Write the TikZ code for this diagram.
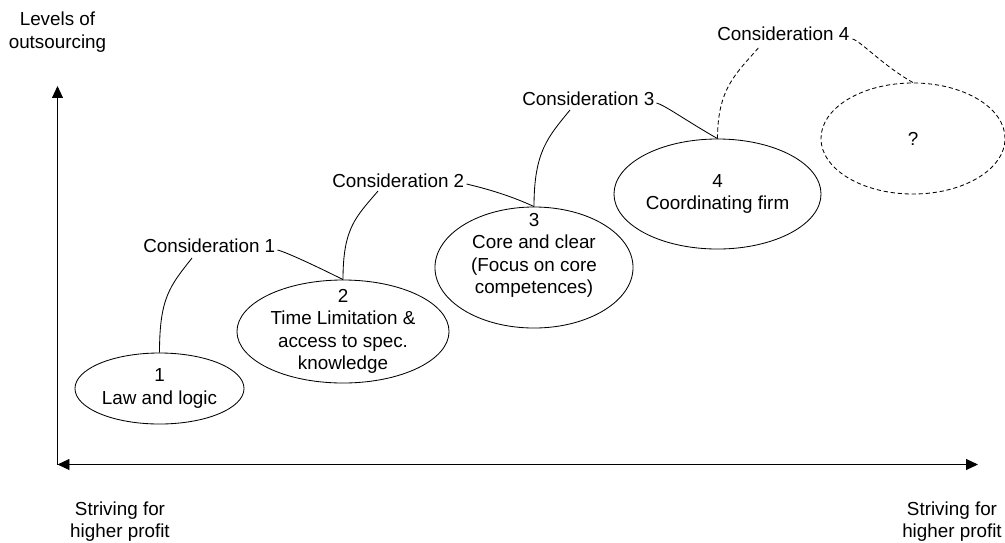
\documentclass[tikz,border=0pt]{standalone}
\usepackage{fontspec}
\setmainfont{Liberation Sans}
\usetikzlibrary{arrows.meta,positioning,calc,shapes.geometric}

\tikzset{
  lbl/.style={font=\fontsize{13.4pt}{16pt}\selectfont, align=center, inner sep=0pt},
  cons/.style={font=\fontsize{13.4pt}{16pt}\selectfont, inner sep=0pt, anchor=base west},
  stage/.style={ellipse, draw, line width=0.6pt, inner sep=0pt},
  link/.style={line width=0.6pt},
  open/.style={dash pattern=on 3pt off 2pt}
}

\begin{document}
\begin{tikzpicture}[x=0.025cm, y=-0.025cm, >={Triangle[length=8.5pt,width=7.8pt]}]
      % Frame (pixel units, y downwards)
      \useasboundingbox (0,0) rectangle (1005,542);

      % Axes
      \coordinate (origin) at (57.5,464.5);
      \coordinate (ytop)   at (57.5,86);
      \coordinate (xend)   at (978,464.5);
      \draw[->,line width=0.6pt] (origin) -- (ytop);
      \draw[<->,line width=0.6pt] (origin) -- (xend);

      % Axis labels
      \node[lbl] (ylab)  at (57.5,32)   {Levels of\\outsourcing};
      \node[lbl] (xlab1) at (120,521.5) {Striving for\\higher profit};
      \node[lbl] (xlab2) at (952,521.5) {Striving for\\higher profit};

      % Stages
      \node[stage, minimum width=4.225cm, minimum height=1.775cm] (e1) at (159.5,388.5) {};
      \node[stage, minimum width=5.3cm,   minimum height=2.575cm] (e2) at (343,331.5) {};
      \node[stage, minimum width=4.95cm,  minimum height=3.025cm] (e3) at (534,267.5) {};
      \node[stage, minimum width=5.175cm, minimum height=2.75cm]  (e4) at (717.5,194) {};
      \node[stage, open, minimum width=4.6cm, minimum height=2.775cm] (e5) at (913,138.5) {};

      \node[lbl] (t1) at (e1) {1\\Law and logic};
      \node[lbl] (t2) at (e2) {2\\Time Limitation \&\\access to spec.\\knowledge};
      \node[lbl] (t3) at ($(e3)+(0,-12)$) {3\\Core and clear\\(Focus on core\\competences)};
      \node[lbl] (t4) at (e4) {4\\Coordinating firm};
      \node[lbl] (t5) at (e5) {?};

      % Considerations
      \node[cons] (c1) at (143,252) {Consideration 1};
      \node[cons] (c2) at (332,187) {Consideration 2};
      \node[cons] (c3) at (522,105) {Consideration 3};
      \node[cons] (c4) at (717,40)  {Consideration 4};

      % Callout lines
      \draw[link] (e1.north) .. controls +(0,-55) and +(-22,28) .. ($(c1.base west)+(49,6)$);
      \draw[link] ($(c1.base east)+(2,-2)$) .. controls +(8,2) and +(-30,-15) .. (e2.north);
      \draw[link] (e2.north) .. controls +(0,-52) and +(-22,26) .. ($(c2.base west)+(46,4)$);
      \draw[link] ($(c2.base east)+(2,-3)$) .. controls +(8,2) and +(-30,-14) .. (e3.north);
      \draw[link] (e3.north) .. controls +(0,-55) and +(-22,27) .. ($(c3.base west)+(48,5)$);
      \draw[link] ($(c3.base east)+(2,-2)$) .. controls +(8,2) and +(-30,-17) .. (e4.north);
      \draw[link, open] (e4.north) .. controls +(0,-52) and +(-22,26) .. ($(c4.base west)+(43,6)$);
      \draw[link, open] ($(c4.base east)+(3,-1)$) .. controls +(8,2) and +(-30,-17) .. (e5.north);
\end{tikzpicture}
\end{document}
